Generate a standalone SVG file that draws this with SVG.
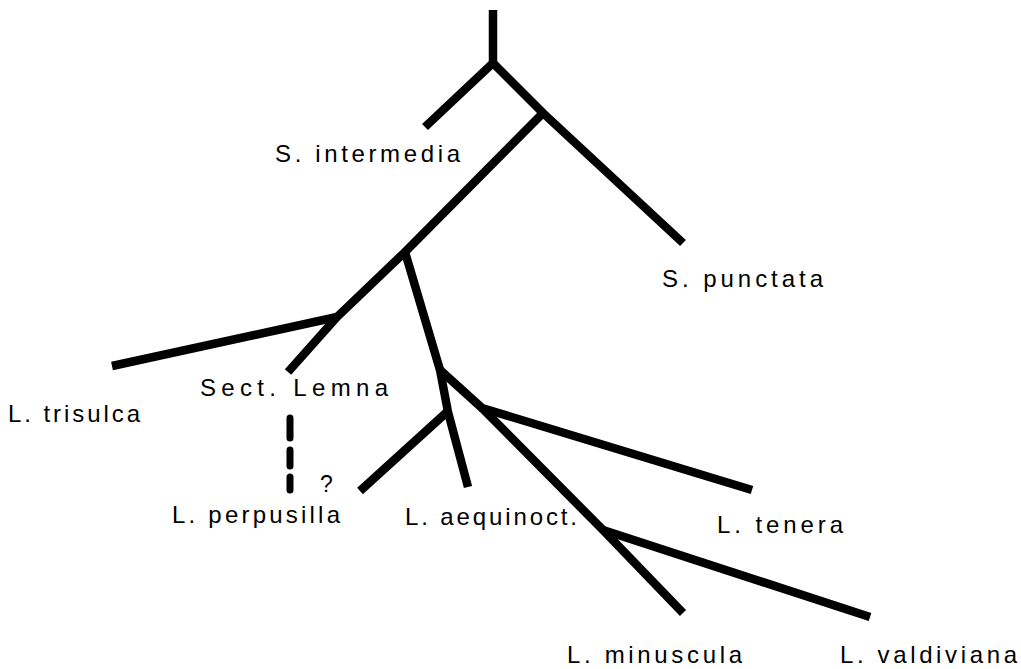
<svg xmlns="http://www.w3.org/2000/svg" width="1021" height="669" viewBox="0 0 1021 669">
<style>
.br{fill:none;stroke:#000;stroke-width:8.5;stroke-linejoin:round;stroke-linecap:butt}
.ds{fill:none;stroke:#000;stroke-width:7;stroke-linecap:round}
.lb{font-family:"Liberation Sans",Arial,sans-serif;font-size:24px;fill:#000}
.q{font-family:"Liberation Sans",Arial,sans-serif;font-size:23px;fill:#000}
</style>
<rect width="1021" height="669" fill="#fff"/>
<g id="connectors">
<path class="br" d="M493,10 L493,63 L425,127"/>
<path class="br" d="M493,63 L543,113 L683,243"/>
<path class="br" d="M543,113 L405,252 L337,317 L288,372"/>
<path class="br" d="M337,317 L112,366"/>
<path class="br" d="M405,252 L440,370 L448,412 L468,487"/>
<path class="br" d="M440,370 L482,408 L752,490"/>
<path class="br" d="M482,408 L603,530 L683,613"/>
<path class="br" d="M603,530 L870,617"/>
<path class="br" d="M447,412 L360,491"/>
<path class="ds" d="M290,418 L290,438 M290,450 L290,466 M290,477 L290,490"/>
</g>
<g id="n-intermedia"><text class="lb" x="275" y="162" textLength="185" lengthAdjust="spacing">S. intermedia</text></g>
<g id="n-punctata"><text class="lb" x="662" y="287" textLength="161" lengthAdjust="spacing">S. punctata</text></g>
<g id="n-trisulca"><text class="lb" x="8" y="422" textLength="132" lengthAdjust="spacing">L. trisulca</text></g>
<g id="n-lemna"><text class="lb" x="200" y="396" textLength="188" lengthAdjust="spacing">Sect. Lemna</text></g>
<g id="n-perpusilla"><text class="lb" x="172" y="523" textLength="168" lengthAdjust="spacing">L. perpusilla</text>
<text class="q" x="320" y="492">?</text></g>
<g id="n-aequinoct"><text class="lb" x="405" y="525" textLength="172" lengthAdjust="spacing">L. aequinoct.</text></g>
<g id="n-tenera"><text class="lb" x="717" y="533" textLength="126" lengthAdjust="spacing">L. tenera</text></g>
<g id="n-minuscula"><text class="lb" x="567" y="663" textLength="175" lengthAdjust="spacing">L. minuscula</text></g>
<g id="n-valdiviana"><text class="lb" x="840" y="663" textLength="177" lengthAdjust="spacing">L. valdiviana</text></g>
</svg>
